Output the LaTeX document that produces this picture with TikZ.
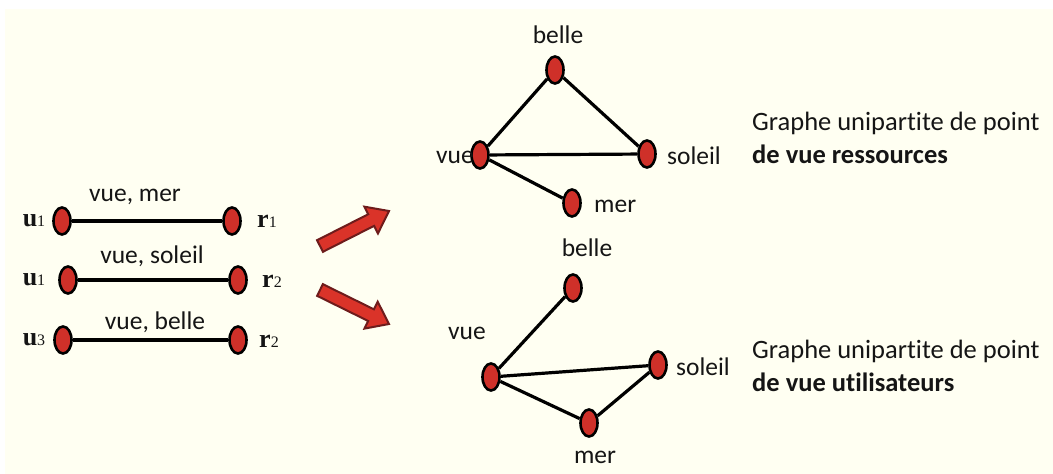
\documentclass[tikz,border=0pt]{standalone}
\usepackage{fontspec}
\setmainfont{Carlito}[Ligatures=NoCommon]
\newfontfamily\timesfont{Liberation Serif}
\usetikzlibrary{shapes.geometric,calc}
\definecolor{cream}{HTML}{FFFFF2}
\definecolor{nodered}{HTML}{CF3029}
\definecolor{arrowred}{HTML}{DA3329}
\definecolor{arrowedge}{HTML}{6E1C1C}
\definecolor{txt}{HTML}{151515}
\tikzset{
  vtx/.style={ellipse, draw=black, line width=2.6pt, fill=nodered, minimum width=17pt, minimum height=27pt, inner sep=0pt},
  edge/.style={line width=3.2pt, black},
  lbl/.style={font=\fontsize{25.5}{28}\selectfont, text=txt, inner sep=0pt},
  ulbl/.style={inner sep=0pt, text=txt},
  desc/.style={font=\fontsize{26.5}{33}\selectfont, text=txt, align=left, anchor=west, inner sep=0pt},
  blockarrow/.style={fill=arrowred, draw=arrowedge, line width=2pt, line join=miter}
}
\newcommand{\ulab}[2]{{\timesfont\fontsize{26}{26}\selectfont\bfseries #1}{\timesfont\fontsize{16}{16}\selectfont #2}}
\begin{document}
\begin{tikzpicture}[x=1pt,y=-1pt]
\useasboundingbox (0,0) rectangle (1053,474);
\fill[white] (0,0) rectangle (1053,474);
\fill[cream] (5,9) rectangle (1053,474);

% left: bipartite edges
\node[vtx] (l1) at (62,221) {};
\node[vtx] (m1) at (232,221) {};
\node[vtx] (l2) at (68,280) {};
\node[vtx] (m2) at (238,280) {};
\node[vtx] (l3) at (63,340) {};
\node[vtx] (m3) at (238,340) {};
\draw[edge] (l1) -- (m1);
\draw[edge] (l2) -- (m2);
\draw[edge] (l3) -- (m3);
\node[lbl] (t1) at (135,197) {vue, mer};
\node[lbl] (t2) at (152,256) {vue, soleil};
\node[lbl] (t3) at (155,322) {vue, belle};
\node[ulbl] (ua) at (34,221) {\ulab{u}{1}};
\node[ulbl] (ub) at (34,280) {\ulab{u}{1}};
\node[ulbl] (uc) at (34,340) {\ulab{u}{3}};
\node[ulbl] (ra) at (267,221) {\ulab{r}{1}};
\node[ulbl] (rb) at (272,281) {\ulab{r}{2}};
\node[ulbl] (rc) at (269,341) {\ulab{r}{2}};

% block arrows
\coordinate (as) at (320,246);
\coordinate (ae) at (389,211);
\coordinate (ah) at ($(ae)!20pt!(as)$);
\draw[blockarrow] ($(as)!6.5pt!90:(ae)$) -- ($(ah)!6.5pt!90:(ae)$) -- ($(ah)!15pt!90:(ae)$) -- (ae)
  -- ($(ah)!15pt!-90:(ae)$) -- ($(ah)!6.5pt!-90:(ae)$) -- ($(as)!6.5pt!-90:(ae)$) -- cycle;
\coordinate (bs) at (320,290);
\coordinate (be) at (389,324);
\coordinate (bh) at ($(be)!20pt!(bs)$);
\draw[blockarrow] ($(bs)!6.5pt!90:(be)$) -- ($(bh)!6.5pt!90:(be)$) -- ($(bh)!15pt!90:(be)$) -- (be)
  -- ($(bh)!15pt!-90:(be)$) -- ($(bh)!6.5pt!-90:(be)$) -- ($(bs)!6.5pt!-90:(be)$) -- cycle;

% top graph
\node[vtx] (belleA) at (555,70) {};
\node[vtx] (vueA) at (480,155) {};
\node[vtx] (soleilA) at (647,154) {};
\node[vtx] (merA) at (572,203) {};
\draw[edge] (vueA) -- (belleA);
\draw[edge] (belleA) -- (soleilA);
\draw[edge] (vueA) -- (soleilA);
\draw[edge] (vueA) -- (merA);
\node[lbl] (belleAt) at (558,35) {belle};
\node[lbl, anchor=east] (vueAt) at (474,157) {vue};
\node[lbl, anchor=west] (soleilAt) at (667,156) {soleil};
\node[lbl, anchor=west] (merAt) at (594,206) {mer};

% bottom graph
\node[vtx] (belleB) at (573,288) {};
\node[vtx] (vueB) at (491,377) {};
\node[vtx] (soleilB) at (658,365) {};
\node[vtx] (merB) at (589,423) {};
\draw[edge] (vueB) -- (belleB);
\draw[edge] (vueB) -- (soleilB);
\draw[edge] (vueB) -- (merB);
\draw[edge] (merB) -- (soleilB);
\node[lbl] (belleBt) at (587,248) {belle};
\node[lbl] (vueBt) at (467,333) {vue};
\node[lbl, anchor=west] (soleilBt) at (676,367) {soleil};
\node[lbl] (merBt) at (595,457) {mer};

% descriptions
\node[desc] (dA) at (752,138) {Graphe unipartite de point\\\textbf{de vue ressources}};
\node[desc] (dB) at (752,366) {Graphe unipartite de point\\\textbf{de vue utilisateurs}};
\end{tikzpicture}
\end{document}
